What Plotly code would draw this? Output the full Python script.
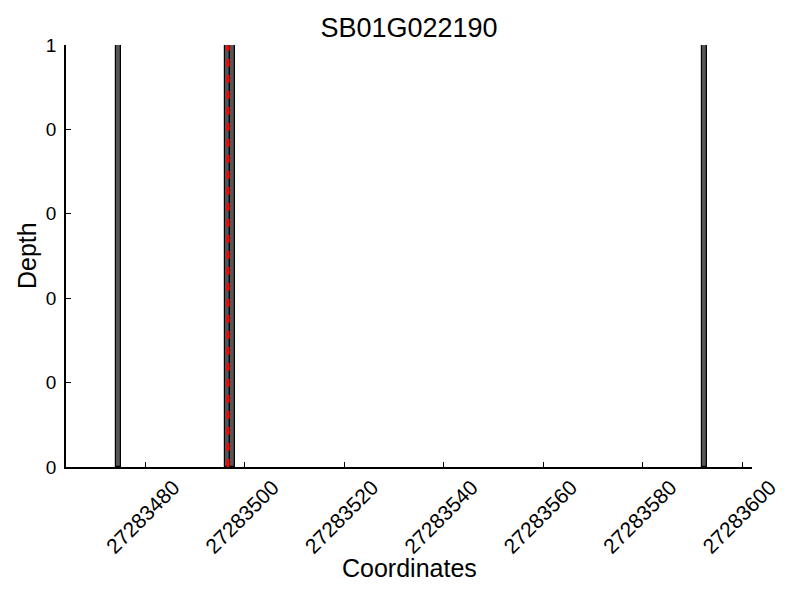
import plotly.graph_objects as go

# Data
positions = [27283474, 27283496, 27283497, 27283592]
depths = [1, 1, 1, 1]
snp_position = 27283496.6
x_tick_vals = [27283480, 27283500, 27283520, 27283540, 27283560, 27283580, 27283600]
x_tick_text = [str(v) for v in x_tick_vals]
y_tick_vals = [0, 0.2, 0.4, 0.6, 0.8, 1.0]
y_tick_text = ["0", "0", "0", "0", "0", "1"]

font_family = "Liberation Sans, Arial, sans-serif"

fig = go.Figure()
fig.add_trace(go.Bar(
    x=[p + 0.5 for p in positions],
    y=depths,
    width=1,
    marker=dict(color="#555555", line=dict(color="#000000", width=1.2)),
    showlegend=False,
))
fig.add_trace(go.Scatter(
    x=[snp_position, snp_position],
    y=[0, 1],
    mode="lines",
    line=dict(color="#ff0000", width=3, dash="8px,8px"),
    showlegend=False,
))

fig.update_layout(
    width=800, height=600,
    margin=dict(l=58, r=56, t=37, b=141, autoexpand=False),
    paper_bgcolor="white", plot_bgcolor="white",
    font=dict(family=font_family, color="black", size=18),
    title=dict(text="SB01G022190", x=0.5 + 1 / 800, xanchor="center",
               y=1 - 20 / 600, yanchor="middle", font=dict(size=27)),
    bargap=0,
    annotations=[
        dict(text="Coordinates", xref="paper", yref="paper", x=0.5, y=0,
             xanchor="center", yanchor="middle", yshift=-101, showarrow=False,
             font=dict(size=25)),
        dict(text="Depth", xref="paper", yref="paper", x=0, y=0.5,
             xanchor="center", yanchor="middle", xshift=-39, textangle=-90,
             showarrow=False, font=dict(size=25)),
    ],
)
fig.update_xaxes(
    range=[27283464.0, 27283602.0],
    tickmode="array", tickvals=x_tick_vals, ticktext=x_tick_text,
    tickangle=-45, ticks="inside", ticklen=5, tickcolor="black", tickwidth=1,
    showline=True, linecolor="black", linewidth=1.5,
    showgrid=False, zeroline=False,
    tickfont=dict(size=21), ticklabelshift=28, ticklabelstandoff=-2,
)
fig.update_yaxes(
    range=[0, 1],
    tickmode="array", tickvals=y_tick_vals, ticktext=y_tick_text,
    ticks="inside", ticklen=5, tickcolor="black", tickwidth=1,
    showline=True, linecolor="black", linewidth=1.5,
    showgrid=False, zeroline=False,
    tickfont=dict(size=19), ticklabelstandoff=4,
)

fig.write_html("out.html")
